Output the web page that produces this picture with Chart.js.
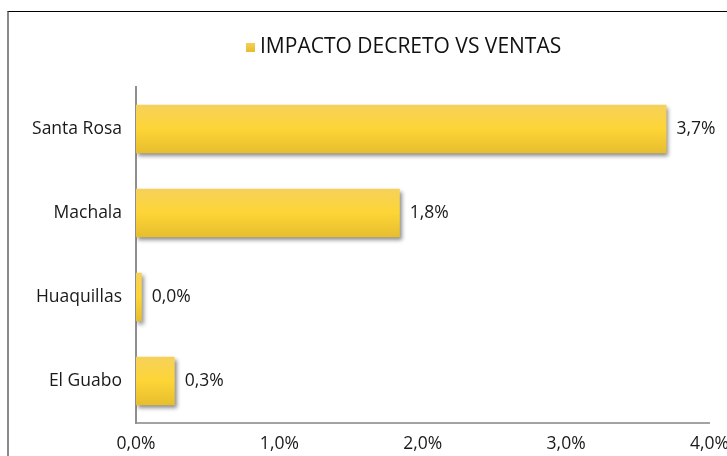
<!DOCTYPE html>
<html>
<head>
<meta charset="utf-8">
<script src="https://cdn.jsdelivr.net/npm/chart.js@4.4.1/dist/chart.umd.min.js"></script>
<style>
  html, body { margin: 0; padding: 0; background: #fff; overflow: hidden; width: 727px; height: 456px; }
  #frame { position: absolute; left: 7px; top: 11px; width: 800px; height: 500px;
           border-left: 2px solid #8a8a8a; border-top: 1px solid #000; box-sizing: border-box; }
  #wrap { position: absolute; left: 0; top: 0; width: 740px; height: 456px; }
</style>
</head>
<body>
<div id="frame"></div>
<div id="wrap"><canvas id="c" width="740" height="456"></canvas></div>
<script>
const categories = ['Santa Rosa', 'Machala', 'Huaquillas', 'El Guabo'];
const values = [3.70, 1.84, 0.04, 0.27];
const seriesName = 'IMPACTO DECRETO VS VENTAS';
const xTicks = [0, 1, 2, 3, 4];

const FONT = "'Open Sans', 'DejaVu Sans', sans-serif";
const fmt = v => v.toFixed(1).replace('.', ',') + '%';

function barFill(ctx) {
  const chart = ctx.chart;
  const y = chart.scales && chart.scales.y;
  if (!y || ctx.dataIndex === undefined || !chart.chartArea) return '#F8D33A';
  const c = y.getPixelForValue(ctx.dataIndex);
  const h = (y.height / categories.length) * 0.58 / 2;
  const g = chart.ctx.createLinearGradient(0, c - h, 0, c + h);
  g.addColorStop(0, '#F6D15A');
  g.addColorStop(0.5, '#FDD536');
  g.addColorStop(1, '#E6BD2E');
  return g;
}

const shadowPlugin = {
  id: 'shadow',
  beforeDatasetsDraw(chart) {
    const c = chart.ctx; c.save();
    c.shadowColor = 'rgba(0,0,0,0.45)';
    c.shadowBlur = 4; c.shadowOffsetX = 2; c.shadowOffsetY = 3;
  },
  afterDatasetsDraw(chart) {
    chart.ctx.restore();
    const c = chart.ctx;
    const meta = chart.getDatasetMeta(0);
    c.save();
    c.font = '17.5px ' + FONT;
    c.fillStyle = '#1a1a1a';
    c.textAlign = 'left'; c.textBaseline = 'middle';
    meta.data.forEach((el, i) => {
      c.fillText(fmt(values[i]), el.x + 10, el.y);
    });
    c.restore();
  }
};

const legendPlugin = {
  id: 'legendDraw',
  afterDraw(chart) {
    const c = chart.ctx; c.save();
    const g = c.createLinearGradient(0, 42, 0, 52);
    g.addColorStop(0, '#F6D15A'); g.addColorStop(1, '#E6BD2E');
    c.fillStyle = g;
    c.fillRect(246, 43, 9, 9);
    c.font = '21px ' + FONT;
    c.fillStyle = '#111';
    c.textAlign = 'left'; c.textBaseline = 'middle';
    c.fillText(seriesName, 260, 47);
    c.restore();
  }
};

new Chart(document.getElementById('c'), {
  type: 'bar',
  data: {
    labels: categories,
    datasets: [{
      label: seriesName,
      data: values,
      backgroundColor: barFill,
      borderWidth: 0,
      barPercentage: 0.58,
      categoryPercentage: 1.0
    }]
  },
  options: {
    indexAxis: 'y',
    responsive: false,
    animation: false,
    layout: { padding: { top: 87, right: 24, bottom: 0, left: 0 } },
    plugins: { legend: { display: false }, tooltip: { enabled: false } },
    scales: {
      x: {
        min: 0, max: 4,
        afterBuildTicks(s) { s.ticks = xTicks.map(v => ({ value: v })); },
        afterFit(s) { s.height = 33; },
        grid: { display: false, drawTicks: false },
        border: { display: true, color: '#a3a3a3', width: 2 },
        ticks: { padding: 11, color: '#1a1a1a', font: { family: FONT, size: 17.5 },
                 callback: v => fmt(v), maxRotation: 0 }
      },
      y: {
        afterFit(s) { s.width = 136; },
        grid: { display: false, drawTicks: false },
        border: { display: true, color: '#8f8f8f', width: 2 },
        ticks: { padding: 14, color: '#1a1a1a', font: { family: FONT, size: 17.5 } }
      }
    }
  },
  plugins: [shadowPlugin, legendPlugin]
});
</script>
</body>
</html>
